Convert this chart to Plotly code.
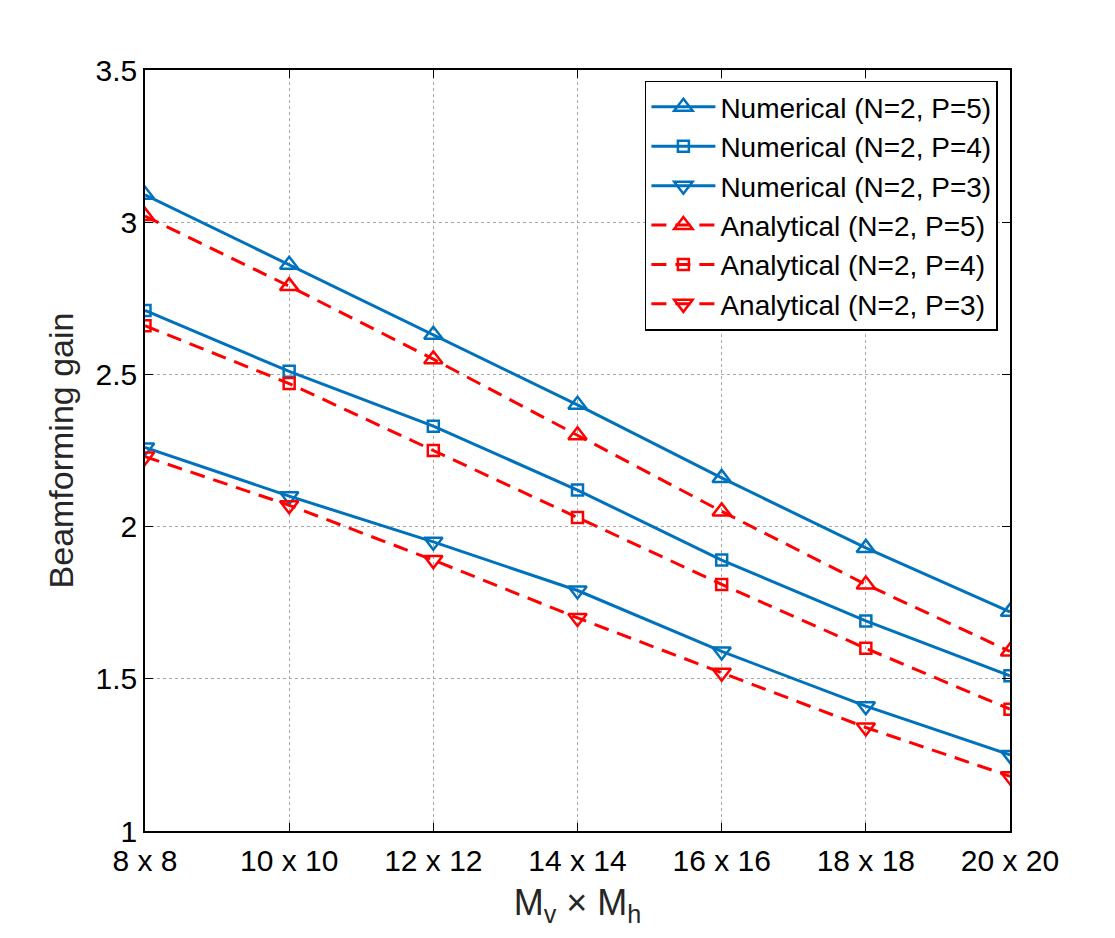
import plotly.graph_objects as go

categories = ["8 x 8", "10 x 10", "12 x 12", "14 x 14", "16 x 16", "18 x 18", "20 x 20"]

num_p5 = [3.09, 2.86, 2.63, 2.40, 2.16, 1.93, 1.72]
num_p4 = [2.71, 2.51, 2.33, 2.12, 1.89, 1.69, 1.51]
num_p3 = [2.26, 2.10, 1.95, 1.79, 1.59, 1.41, 1.25]
ana_p5 = [3.02, 2.79, 2.55, 2.30, 2.05, 1.81, 1.59]
ana_p4 = [2.66, 2.47, 2.25, 2.03, 1.81, 1.60, 1.40]
ana_p3 = [2.23, 2.07, 1.89, 1.70, 1.52, 1.34, 1.18]

y_ticks = [1, 1.5, 2, 2.5, 3, 3.5]
y_ticktext = ["1", "1.5", "2", "2.5", "3", "3.5"]

BLUE = "#0072BD"
RED = "#FF0000"
FONT = "Liberation Sans, Arial, sans-serif"

series = [
    ("Numerical (N=2, P=5)", num_p5, BLUE, "solid", "triangle-up-open", 16),
    ("Numerical (N=2, P=4)", num_p4, BLUE, "solid", "square-open", 11),
    ("Numerical (N=2, P=3)", num_p3, BLUE, "solid", "triangle-down-open", 16),
    ("Analytical (N=2, P=5)", ana_p5, RED, "15px,9px", "triangle-up-open", 16),
    ("Analytical (N=2, P=4)", ana_p4, RED, "15px,9px", "square-open", 11),
    ("Analytical (N=2, P=3)", ana_p3, RED, "15px,9px", "triangle-down-open", 16),
]

fig = go.Figure()
for name, vals, color, dash, sym, size in series:
    fig.add_trace(go.Scatter(
        x=categories, y=vals, name=name, mode="lines+markers",
        line=dict(color=color, width=3, dash=dash),
        marker=dict(symbol=sym, size=size, color=color,
                    line=dict(color=color, width=2.5)),
    ))

fig.update_layout(
    width=1115, height=938,
    margin=dict(l=145, r=105, t=70, b=107),
    paper_bgcolor="white", plot_bgcolor="white",
    font=dict(family=FONT, size=30, color="black"),
    showlegend=True,
    legend=dict(
        x=0.986, y=0.986, xanchor="right", yanchor="top",
        bgcolor="white", bordercolor="black", borderwidth=1.5,
        font=dict(family=FONT, size=28, color="black"),
        itemwidth=64, tracegroupgap=0,
    ),
)

fig.update_xaxes(
    type="category", range=[0, 6],
    showline=True, linecolor="black", linewidth=1.5, mirror="allticks",
    ticks="inside", ticklen=8, tickcolor="black",
    showgrid=True, gridcolor="#a8a8a8", griddash="dot", gridwidth=1,
    tickfont=dict(family=FONT, size=30, color="black"),
    ticklabelstandoff=2,
    title=dict(text="M<sub>v</sub> × M<sub>h</sub>", standoff=14,
               font=dict(family=FONT, size=36, color="#262626")),
    zeroline=False,
)
fig.update_yaxes(
    range=[1, 3.5], tickvals=y_ticks, ticktext=y_ticktext,
    showline=True, linecolor="black", linewidth=1.5, mirror="allticks",
    ticks="inside", ticklen=8, tickcolor="black",
    showgrid=True, gridcolor="#a8a8a8", griddash="dot", gridwidth=1,
    tickfont=dict(family=FONT, size=30, color="black"),
    title=dict(text="Beamforming gain", standoff=12,
               font=dict(family=FONT, size=34, color="#262626")),
    zeroline=False,
)

fig.write_html("out.html")
